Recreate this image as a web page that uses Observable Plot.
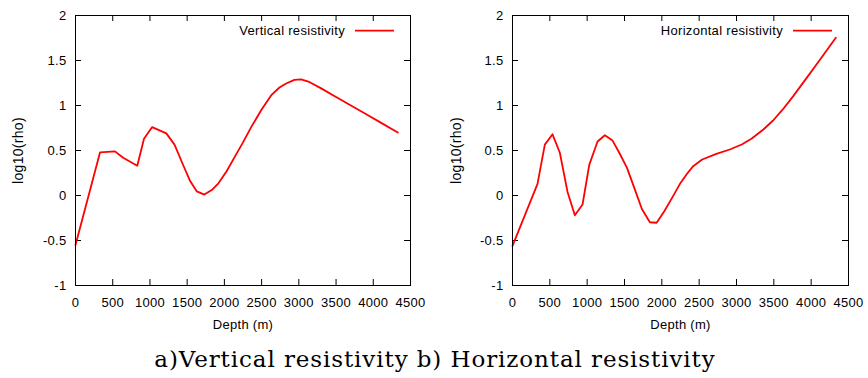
<!DOCTYPE html>
<html>
<head>
<meta charset="utf-8">
<script src="https://cdn.jsdelivr.net/npm/d3@7"></script>
<script src="https://cdn.jsdelivr.net/npm/@observablehq/plot@0.6"></script>
<style>
  html, body { margin: 0; padding: 0; background: #fff; }
  #wrap { width: 868px; height: 378px; position: relative; overflow: hidden; }
  #row { display: flex; flex-direction: row; width: 868px; height: 338px; }
  #row svg { display: block; }
  #caption {
    width: 868px; text-align: center; padding-left: 2px; box-sizing: border-box;
    font-family: "DejaVu Serif", "Liberation Serif", serif; font-size: 23px;
    letter-spacing: 0.9px; line-height: 40px; margin-top: 1px; color: #000;
    white-space: nowrap;
  }
</style>
</head>
<body>
<div id="wrap">
  <div id="row"></div>
  <div id="caption">a)Vertical resistivity b) Horizontal resistivity</div>
</div>
<script>
// ---- data ----
const depthV = [0, 330, 530, 640, 830, 920, 1030, 1220, 1330, 1440, 1540, 1630, 1730, 1830, 1920, 2030, 2160, 2250, 2360, 2500, 2630, 2740, 2830, 2940, 3030, 3140, 3300, 3500, 3700, 3900, 4100, 4330];
const rhoV   = [-0.55, 0.48, 0.49, 0.42, 0.33, 0.63, 0.76, 0.69, 0.565, 0.35, 0.16, 0.045, 0.01, 0.06, 0.135, 0.27, 0.46, 0.59, 0.76, 0.955, 1.115, 1.2, 1.245, 1.285, 1.29, 1.262, 1.19, 1.095, 1.0, 0.905, 0.81, 0.70];

const depthH = [0, 335, 433, 536, 634, 737, 835, 938, 1028, 1139, 1237, 1340, 1430, 1532, 1631, 1733, 1840, 1930, 2033, 2145, 2250, 2340, 2420, 2540, 2730, 2910, 3070, 3200, 3360, 3490, 3620, 3760, 3940, 4120, 4330];
const rhoH   = [-0.56, 0.13, 0.565, 0.68, 0.475, 0.04, -0.22, -0.10, 0.34, 0.60, 0.67, 0.61, 0.475, 0.31, 0.085, -0.15, -0.297, -0.303, -0.175, -0.015, 0.14, 0.245, 0.326, 0.40, 0.463, 0.511, 0.567, 0.63, 0.733, 0.833, 0.956, 1.104, 1.307, 1.511, 1.752];

const xTicks = [0, 500, 1000, 1500, 2000, 2500, 3000, 3500, 4000, 4500];
const yTicks = [-1, -0.5, 0, 0.5, 1, 1.5, 2];
const xDomain = [0, 4500];
const yDomain = [-1, 2];

const xLabel = "Depth (m)";
const yLabel = "log10(rho)";
const seriesNames = ["Vertical resistivity", "Horizontal resistivity"];

function makePanel(depth, rho, name, ml, mr, ylabDx) {
  const W = 434, H = 338, mt = 15, mb = 53;
  const fw = W - ml - mr, fh = H - mt - mb;
  const data = depth.map((d, i) => ({depth: d, rho: rho[i]}));
  const svg = Plot.plot({
    width: W, height: H,
    marginLeft: ml, marginRight: mr, marginTop: mt, marginBottom: mb,
    style: {fontFamily: "'Liberation Sans', Arial, sans-serif", fontSize: "13px", color: "#000", background: "#fff", letterSpacing: "0.3px"},
    x: {domain: xDomain, ticks: xTicks, tickSize: 0, tickPadding: 12, tickFormat: d => String(d), label: null},
    y: {domain: yDomain, ticks: yTicks, tickSize: 0, tickPadding: 9, tickFormat: d => String(d), label: null},
    marks: [
      Plot.tickX(xTicks, {x: d => d, insetTop: fh - 6, stroke: "#000"}),
      Plot.tickX(xTicks, {x: d => d, insetBottom: fh - 6, stroke: "#000"}),
      Plot.tickY(yTicks, {y: d => d, insetRight: fw - 6, stroke: "#000"}),
      Plot.tickY(yTicks, {y: d => d, insetLeft: fw - 6, stroke: "#000"}),
      Plot.line(data, {x: "depth", y: "rho", stroke: "#ff0000", strokeWidth: 1.8}),
      Plot.frame({stroke: "#000"}),
      Plot.text([xLabel], {text: d => d, frameAnchor: "bottom", textAnchor: "middle", lineAnchor: "middle", dy: 39.5}),
      Plot.text([yLabel], {text: d => d, frameAnchor: "left", textAnchor: "middle", lineAnchor: "middle", rotate: -90, dx: ylabDx, fontSize: 14}),
      Plot.text([name], {text: d => d, frameAnchor: "top-right", textAnchor: "end", lineAnchor: "middle", dx: -65.5, dy: 15.2})
    ]
  });
  // legend sample line
  const xr = W - mr + 0.5;
  d3.select(svg).append("line")
    .attr("x1", xr - 55.5).attr("x2", xr - 16.5)
    .attr("y1", mt + 0.5 + 15.2).attr("y2", mt + 0.5 + 15.2)
    .attr("stroke", "#ff0000").attr("stroke-width", 1.8);
  return svg;
}

const row = document.getElementById("row");
row.appendChild(makePanel(depthV, rhoV, seriesNames[0], 75, 24, -57));
row.appendChild(makePanel(depthH, rhoH, seriesNames[1], 78, 20, -56));
</script>
</body>
</html>
